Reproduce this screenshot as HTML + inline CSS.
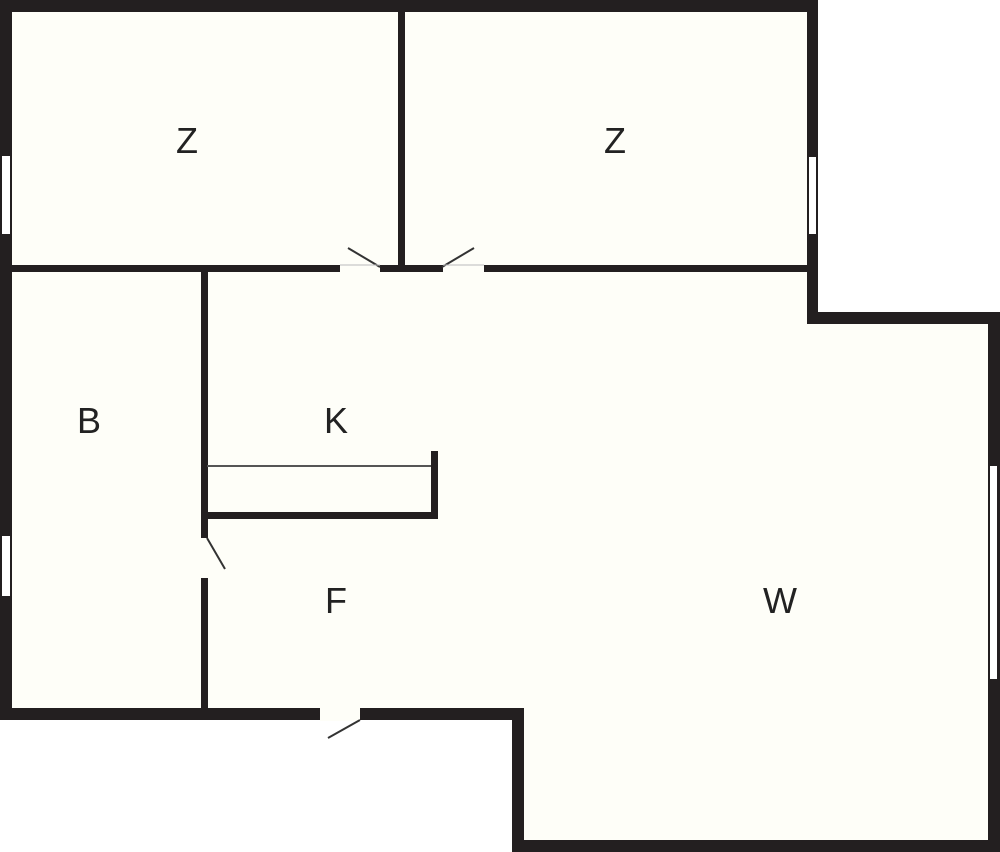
<!DOCTYPE html>
<html><head><meta charset="utf-8"><style>
html,body{margin:0;padding:0;background:#fff;}
svg{display:block;}
text{font-family:"Liberation Sans",sans-serif;font-size:36px;fill:#222;text-anchor:middle;}
</style></head><body>
<svg width="1000" height="852" viewBox="0 0 1000 852">
<polygon points="0,0 818,0 818,312 1000,312 1000,852 512,852 512,720 0,720" fill="#231f20"/>
<polygon points="12,12 807,12 807,324 988,324 988,840 524,840 524,708 12,708" fill="#fefef8"/>
<!-- interior walls -->
<rect x="398" y="12" width="7" height="256" fill="#231f20"/>
<rect x="12" y="265" width="795" height="7" fill="#231f20"/>
<rect x="201" y="272" width="7" height="266" fill="#231f20"/>
<rect x="201" y="578" width="7" height="130" fill="#231f20"/>
<rect x="207" y="465" width="225" height="2" fill="#555"/>
<rect x="207" y="512" width="230" height="7" fill="#231f20"/>
<rect x="431" y="451" width="7" height="68" fill="#231f20"/>
<!-- door gaps -->
<rect x="340" y="264" width="40" height="9" fill="#fefef8"/>
<rect x="443" y="264" width="41" height="9" fill="#fefef8"/>
<rect x="200" y="538" width="9" height="40" fill="#fefef8"/>
<rect x="320" y="707" width="40" height="14" fill="#fefef8"/>
<g stroke="#333" stroke-width="2">
<line x1="380" y1="267" x2="348" y2="248"/>
<line x1="442" y1="267" x2="474" y2="248"/>
<line x1="207" y1="538" x2="225" y2="569"/>
<line x1="360" y1="720" x2="328" y2="738"/>
<line x1="340" y1="265" x2="380" y2="265" stroke-width="1" stroke="#bbb"/>
<line x1="443" y1="265" x2="484" y2="265" stroke-width="1" stroke="#bbb"/>
</g>
<!-- windows -->
<rect x="2" y="156" width="8" height="78" fill="#fff"/>
<rect x="2" y="536" width="8" height="60" fill="#fff"/>
<rect x="809" y="157" width="7" height="77" fill="#fff"/>
<rect x="990" y="466" width="7" height="213" fill="#fff"/>
<text x="187" y="153">Z</text>
<text x="615" y="153">Z</text>
<text x="89" y="433">B</text>
<text x="336" y="433">K</text>
<text x="336" y="613">F</text>
<text x="780" y="613">W</text>
</svg>
</body></html>
